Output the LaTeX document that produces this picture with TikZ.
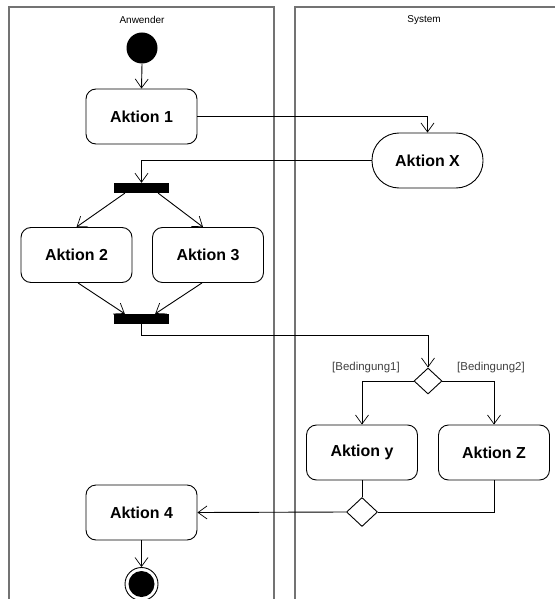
\documentclass[tikz,border=0pt]{standalone}
\usepackage{fontspec}
\setmainfont{Liberation Sans}
\usetikzlibrary{arrows.meta,shapes.geometric}
\tikzset{
  lane/.style={draw=gray!90!black,line width=1.4bp},
  action/.style={draw=black,line width=0.9bp,rounded corners=10bp,minimum width=111bp,minimum height=55bp,inner sep=0pt,font=\fontsize{16}{19}\selectfont\bfseries},
  stadium/.style={action,rounded corners=27bp},
  bar/.style={fill=black,draw=none,minimum width=55bp,minimum height=10bp,inner sep=0pt},
  decision/.style={diamond,draw=black,line width=0.9bp,fill=white,inner sep=0pt},
  flow/.style={line width=0.9bp,-{Straight Barb[length=9bp,width=13bp,line width=0.7bp]}},
  plain/.style={line width=0.9bp},
  lanelabel/.style={font=\fontsize{10}{12}\selectfont},
  guard/.style={font=\fontsize{11.5}{14}\selectfont,text=black!75}
}
\begin{document}
\begin{tikzpicture}[x=1bp,y=-1bp]
\useasboundingbox (0,0) rectangle (555,599);
% swimlanes
\draw[lane] (9,599) -- (9,7) -- (274,7) -- (274,599);
\draw[lane] (295,599) -- (295,7) -- (555,7);
\node[lanelabel] (lA) at (142,20) {Anwender};
\node[lanelabel] (lS) at (424,20) {System};
% nodes
\node[circle,fill=black,minimum size=31bp,inner sep=0pt] (start) at (142,48) {};
\node[action] (a1) at (141.5,116.5) {Aktion 1};
\node[stadium] (ax) at (427.5,160.5) {Aktion X};
\node[bar] (fork) at (141.5,188) {};
\node[action] (a2) at (76.5,255) {Aktion 2};
\node[action] (a3) at (208,255) {Aktion 3};
\node[bar] (join) at (141.5,319) {};
\node[decision,minimum width=28bp,minimum height=26bp] (dec) at (428,381) {};
\node[guard] (g1) at (366,368) {[Bedingung1]};
\node[guard] (g2) at (491,368) {[Bedingung2]};
\node[action] (ay) at (362,452.5) {Aktion y};
\node[action] (az) at (494,452.5) {Aktion Z};
\node[decision,minimum width=31bp,minimum height=29bp] (merge) at (362,512) {};
\node[action] (a4) at (141.5,512.5) {Aktion 4};
\node[circle,draw=black,line width=0.9bp,minimum size=33bp,inner sep=0pt] (endo) at (141.5,584) {};
\node[circle,fill=black,minimum size=26bp,inner sep=0pt] (endi) at (141.5,584) {};
% connectors
\draw[flow] (start.south) -- (a1.north);
\draw[flow] (a1.east) -| (ax.north);
\draw[flow] (ax.west) -| (fork.north);
\draw[flow] ([xshift=11bp]fork.south west) -- (a2.north);
\draw[flow] ([xshift=-11bp]fork.south east) -- ([xshift=-5bp]a3.north);
\draw[flow] ([xshift=1.5bp]a2.south) -- ([xshift=11bp]join.north west);
\draw[flow] ([xshift=-6bp]a3.south) -- ([xshift=-14bp]join.north east);
\draw[flow] (join.south) -- ++(0,11) -| (dec.north);
\draw[flow] (dec.west) -| (ay.north);
\draw[flow] (dec.east) -| (az.north);
\draw[plain] (ay.south) -- (merge.north);
\draw[plain] (az.south) |- (merge.east);
\draw[flow] (merge.west) -- (a4.east);
\draw[flow] (a4.south) -- (endo.north);
\end{tikzpicture}
\end{document}
